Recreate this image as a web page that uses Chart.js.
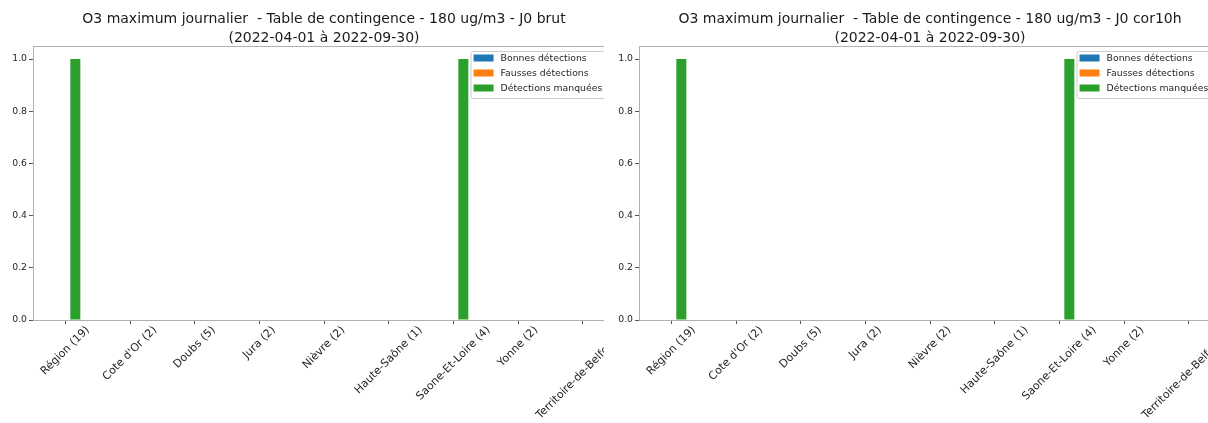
<!DOCTYPE html>
<html>
<head>
<meta charset="utf-8">
<script src="https://cdn.jsdelivr.net/npm/chart.js@4.4.0/dist/chart.umd.min.js"></script>
<style>
  body { margin: 0; background: #fff; width: 1208px; height: 423px; overflow: hidden; position: relative; }
  .panel { position: absolute; top: 0; height: 423px; overflow: hidden; background: #fff; }
  .panel canvas { position: absolute; left: 0; top: 0; }
</style>
</head>
<body>
<div class="panel" style="left:0;width:604px"><canvas id="chartBrut" width="625" height="423"></canvas></div>
<div class="panel" style="left:606px;width:602px"><canvas id="chartCor" width="625" height="423"></canvas></div>
<script>
const categories = ['Région (19)', "Cote d'Or (2)", 'Doubs (5)', 'Jura (2)', 'Nièvre (2)',
  'Haute-Saône (1)', 'Saone-Et-Loire (4)', 'Yonne (2)', 'Territoire-de-Belfort (1)'];
const seriesNames = ['Bonnes détections', 'Fausses détections', 'Détections manquées'];

// J0 brut
const brutBonnes = [0, 0, 0, 0, 0, 0, 0, 0, 0];
const brutFausses = [0, 0, 0, 0, 0, 0, 0, 0, 0];
const brutManquees = [1, 0, 0, 0, 0, 0, 1, 0, 0];

// J0 cor10h
const corBonnes = [0, 0, 0, 0, 0, 0, 0, 0, 0];
const corFausses = [0, 0, 0, 0, 0, 0, 0, 0, 0];
const corManquees = [1, 0, 0, 0, 0, 0, 1, 0, 0];

const yTicks = [0, 0.2, 0.4, 0.6, 0.8, 1.0];
const titlePeriod = '(2022-04-01 à 2022-09-30)';
const colors = ['#1f77b4', '#ff7f0e', '#2ca02c'];
const FONT = '"DejaVu Sans", sans-serif';

// titles, x labels (rotated, centred on the tick like matplotlib), box and legend
const decor = {
  id: 'decor',
  afterDatasetsDraw(chart) {
    const { ctx, chartArea: a } = chart;
    ctx.save();
    ctx.strokeStyle = '#b0b0b0';
    ctx.lineWidth = 1;
    ctx.strokeRect(Math.round(a.left) + 0.5, Math.round(a.top) + 0.5,
      Math.round(a.right - a.left), Math.round(a.bottom - a.top));
    ctx.restore();
  },
  afterDraw(chart, args, opts) {
    const { ctx, chartArea: a } = chart;
    const cx = (a.left + a.right) / 2;
    ctx.save();
    ctx.fillStyle = '#1a1a1a';
    ctx.textAlign = 'center';
    ctx.textBaseline = 'alphabetic';
    ctx.font = '14px ' + FONT;
    ctx.fillText(opts.title, cx, 23);
    ctx.fillText(titlePeriod, cx, 42);

    // x labels
    const xs = chart.scales.x;
    const fs = 11;
    ctx.font = fs + 'px ' + FONT;
    ctx.fillStyle = '#262626';
    chart.data.labels.forEach((label, i) => {
      const x = xs.getPixelForTick(i);
      const w = ctx.measureText(label).width;
      const side = (w + fs * 1.1) * Math.SQRT1_2;
      ctx.save();
      ctx.translate(x, a.bottom + 4 + side / 2);
      ctx.rotate(-Math.PI / 4);
      ctx.textAlign = 'center';
      ctx.textBaseline = 'middle';
      ctx.fillText(label, 0, 0);
      ctx.restore();
    });

    // legend
    const lf = 9;
    ctx.font = lf + 'px ' + FONT;
    const ds = chart.data.datasets;
    const maxW = Math.max(...ds.map(d => ctx.measureText(d.label).width));
    const boxW = 3 + 20 + 7 + maxW + 12;
    const boxH = 47;
    const right = a.right - 4;
    const left = right - boxW;
    const top = a.top + 5;
    ctx.beginPath();
    ctx.roundRect(left + 0.5, top + 0.5, boxW, boxH, 2);
    ctx.fillStyle = 'rgba(255,255,255,0.85)';
    ctx.fill();
    ctx.strokeStyle = '#cccccc';
    ctx.stroke();
    ctx.font = '9.3px ' + FONT;
    ds.forEach((d, i) => {
      const y = top + 7 + i * 15;
      ctx.fillStyle = d.backgroundColor;
      ctx.fillRect(left + 3, y - 3.5, 20, 7);
      ctx.fillStyle = '#262626';
      ctx.textAlign = 'left';
      ctx.textBaseline = 'middle';
      ctx.fillText(d.label, left + 30, y + 0.5);
    });
    ctx.restore();
  }
};

function makeChart(id, title, bonnes, fausses, manquees) {
  const ctx = document.getElementById(id).getContext('2d');
  return new Chart(ctx, {
    type: 'bar',
    data: {
      labels: categories,
      datasets: [bonnes, fausses, manquees].map((vals, i) => ({
        label: seriesNames[i],
        data: vals,
        backgroundColor: colors[i],
        borderWidth: 0,
        barPercentage: 1,
        categoryPercentage: 0.464
      }))
    },
    options: {
      responsive: false,
      animation: false,
      layout: { padding: { top: 46, right: 10, left: 0, bottom: 0 } },
      plugins: {
        legend: { display: false },
        tooltip: { enabled: false },
        decor: { title: title }
      },
      scales: {
        x: {
          offset: true,
          border: { display: false },
          grid: { display: true, offset: false, drawOnChartArea: false, drawTicks: true, tickLength: 4, tickColor: '#555' },
          ticks: { display: false },
          afterFit: s => { s.height = 103; }
        },
        y: {
          min: 0,
          max: 1.05,
          border: { display: false },
          grid: { drawOnChartArea: false, drawTicks: true, tickLength: 4, tickColor: '#555' },
          afterBuildTicks: s => { s.ticks = yTicks.map(v => ({ value: v })); },
          ticks: {
            padding: 2,
            color: '#262626',
            font: { family: 'DejaVu Sans', size: 9.3 },
            callback: v => v.toFixed(1)
          },
          afterFit: s => { s.width = 33; }
        }
      }
    },
    plugins: [decor]
  });
}

makeChart('chartBrut', 'O3 maximum journalier  - Table de contingence - 180 ug/m3 - J0 brut',
  brutBonnes, brutFausses, brutManquees);
makeChart('chartCor', 'O3 maximum journalier  - Table de contingence - 180 ug/m3 - J0 cor10h',
  corBonnes, corFausses, corManquees);
</script>
</body>
</html>
